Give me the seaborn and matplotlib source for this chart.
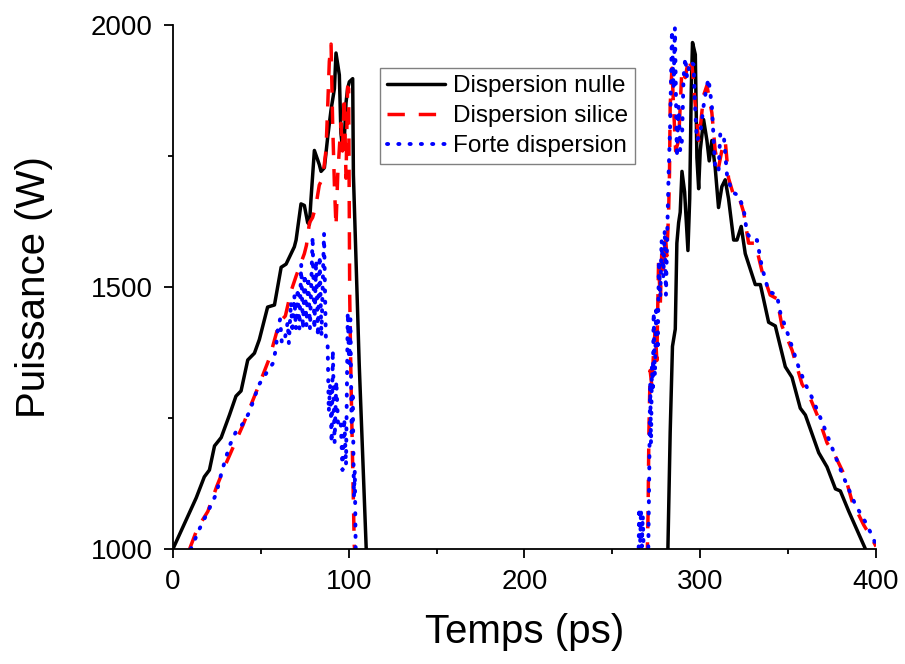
"""
plot.py
-------
Puissance en fonction du temps pour trois régimes de dispersion.
"""

import numpy as np
import pandas as pd
import matplotlib
matplotlib.use("Agg")
import matplotlib.pyplot as plt
import seaborn as sns

# ── Données ─────────────────────────────────────────────────────────────────

# Dispersion nulle — première impulsion
t_nulle_1 = [0, 13.3, 17.9, 20.8, 23.7, 27.5, 32.2, 35.9, 38.8, 42.6, 46.4, 49.2,
             53.9, 57.8, 61.6, 64.4, 69.1, 70.1, 72.9, 74.8, 76.7, 77.7, 78.6,
             80.5, 83.3, 84.3, 86.2, 88.1, 90.0, 91.9, 92.8, 94.7, 95.6, 96.6,
             97.5, 98.5, 99.4, 100.4, 102.3, 102.7, 106.0, 110.0, 112.0]
p_nulle_1 = [1000, 1098, 1138, 1151, 1197, 1213, 1256, 1292, 1302, 1361, 1374, 1400,
             1462, 1466, 1538, 1544, 1577, 1590, 1659, 1656, 1623, 1620, 1669,
             1761, 1734, 1721, 1728, 1787, 1839, 1879, 1947, 1905, 1794, 1761,
             1780, 1852, 1879, 1892, 1898, 1715, 1354, 1000, 980]

# Dispersion nulle — seconde impulsion
t_nulle_2 = [281.4, 281.6, 282.9, 284.2, 285.8, 286.7, 287.7, 288.6, 289.6, 291.1,
             293.0, 294.0, 294.9, 295.6, 297.2, 298.1, 299.1, 300.0, 301.9, 303.8,
             305.1, 306.6, 308.5, 310.4, 312.3, 314.2, 316.1, 319.0, 320.9, 323.3,
             325.6, 331.3, 334.2, 338.9, 342.7, 348.4, 352.2, 356.9, 359.8, 367.4,
             372.1, 376.9, 379.7, 384.5, 394.0, 395.0]
p_nulle_2 = [980, 1000, 1223, 1387, 1420, 1584, 1623, 1643, 1721, 1682,
             1570, 1669, 1879, 1967, 1944, 1747, 1688, 1761, 1820, 1780,
             1741, 1780, 1728, 1652, 1692, 1705, 1669, 1590, 1590, 1616,
             1564, 1505, 1505, 1433, 1426, 1348, 1328, 1269, 1256, 1184,
             1157, 1115, 1111, 1072, 1000, 985]

# Dispersion silice — première impulsion
t_silice_1 = [9.5, 14, 19.9, 25, 30.3, 35, 39.8, 45, 49.2, 55, 60.6, 64, 67.2,
              70.1, 74.8, 76, 77.7, 79.5, 81.4, 83.3, 85.2, 87.1, 88.1, 89.0, 90.0,
              90.9, 91.9, 92.8, 93.8, 95.6, 96.5, 97.5, 98.5, 99.4, 100.0, 100.6,
              101.3, 102.3, 103.2, 104]
p_silice_1 = [1000, 1040, 1072, 1120, 1164, 1200, 1236, 1280, 1315, 1365, 1433,
              1445, 1492, 1521, 1564, 1580, 1623, 1633, 1656, 1695, 1708, 1761,
              1846, 1931, 1964, 1813, 1695, 1616, 1715, 1813, 1760, 1865, 1708,
              1882, 1879, 1485, 1328, 1157, 1007, 980]

# Dispersion silice — seconde impulsion
t_silice_2 = [269.8, 270.3, 270.8, 271.5, 272.5, 273.5, 274.4, 275.3, 276.3, 277.3,
              278.2, 279.2, 280.1, 281.0, 282.0, 282.5, 282.9, 283.9, 284.8, 286.0,
              287.7, 289.6, 291.5, 293.4, 294.3, 295.3, 297.2, 299.1, 300.5, 301.9,
              303.8, 306.6, 308.5, 310.4, 312.3, 314.2, 316.1, 319.0, 321.8, 324.7,
              327.5, 331.3, 335.1, 339.8, 343.6, 346.5, 352.2, 357.9, 361.7, 367.4,
              372.1, 376.9, 382.5, 386.3, 393.0, 397.7, 400.0]
p_silice_2 = [980, 1066, 1223, 1341, 1310, 1380, 1420, 1360, 1551, 1470,
              1577, 1530, 1603, 1560, 1643, 1715, 1846, 1918, 1846, 1760,
              1780, 1918, 1900, 1938, 1925, 1925, 1846, 1780, 1820, 1866,
              1885, 1833, 1761, 1728, 1761, 1780, 1708, 1675, 1675, 1643,
              1584, 1584, 1531, 1485, 1478, 1426, 1380, 1315, 1295, 1249,
              1203, 1177, 1138, 1092, 1046, 1020, 1005]

# Forte dispersion — première impulsion
t_forte_1 = [10.2, 15.2, 20, 24.6, 28, 32.2, 36, 40, 43.6, 47, 49.2, 53, 56.8,
             58.5, 59.7, 61, 62, 63.5, 65.3, 66, 67.2, 68, 69.1, 70, 71, 72, 73,
             74, 75, 76, 77, 78, 79.5, 80.5, 81.5, 82.5, 83.5, 84.5, 86, 87, 88,
             88.7, 89.5, 90.3, 91, 92, 93, 94, 95.5, 96.5, 97.5, 98.5, 99.5, 100.3,
             101, 101.7, 102.3, 103, 103.5, 104, 104.3]
p_forte_1 = [1000, 1039, 1072, 1105, 1150, 1197, 1225, 1240, 1262, 1295, 1315, 1335,
             1354, 1380, 1420, 1439, 1393, 1397, 1433, 1393, 1472, 1413, 1485, 1420,
             1498, 1420, 1544, 1420, 1525, 1426, 1520, 1420, 1597, 1420, 1551, 1406,
             1560, 1406, 1603, 1406, 1400, 1262, 1315, 1203, 1380, 1203, 1321, 1236,
             1243, 1151, 1250, 1160, 1452, 1354, 1440, 1223, 1300, 1100, 1150, 1000,
             980]

# Forte dispersion — seconde impulsion
t_forte_2 = [264.8, 265.3, 265.8, 266.3, 266.8, 267.3, 267.8, 268.3, 270.3, 271.0,
             271.5, 272.0, 272.5, 273.0, 273.5, 274.2, 275.0, 275.8, 276.5, 277.3,
             278.0, 279.0, 279.8, 280.5, 281.2, 282.0, 282.9, 283.9, 284.8, 285.6,
             286.7, 287.7, 288.6, 289.6, 290.5, 291.5, 292.5, 294.3, 296.2, 297.0,
             298.1, 300.0, 301.9, 303.5, 304.7, 306.6, 308.5, 310.4, 311.4, 313.3,
             315.2, 318.0, 321.8, 324.7, 326.6, 329.4, 332.3, 335.1, 338.9, 343.6,
             345.5, 350.3, 355.9, 359.8, 363.6, 369.3, 376.9, 380.7, 388.2, 393.9,
             397.7, 401.0]
p_forte_2 = [960, 1079, 1010, 1075, 1005, 1065, 1000, 960, 960, 1150,
             1320, 1200, 1350, 1300, 1452, 1330, 1465, 1380, 1551, 1480,
             1590, 1520, 1610, 1485, 1600, 1715, 1813, 1990, 1879, 1995,
             1748, 1846, 1760, 1780, 1900, 1938, 1900, 1931, 1925, 1850,
             1780, 1793, 1846, 1880, 1898, 1846, 1728, 1721, 1793, 1793,
             1715, 1682, 1675, 1649, 1603, 1590, 1590, 1538, 1492, 1485,
             1452, 1406, 1348, 1315, 1289, 1243, 1177, 1144, 1085, 1052,
             1026, 1000]

SERIES = [
    ("Dispersion nulle", [(t_nulle_1, p_nulle_1), (t_nulle_2, p_nulle_2)],
     dict(color="black", linestyle="-", linewidth=2.5)),
    ("Dispersion silice", [(t_silice_1, p_silice_1), (t_silice_2, p_silice_2)],
     dict(color="#FF0000", linestyle=(0, (5, 4)), linewidth=2.5)),
    ("Forte dispersion", [(t_forte_1, p_forte_1), (t_forte_2, p_forte_2)],
     dict(color="#0000FF", linestyle=(0, (0.3, 2.6)), linewidth=2.8,
          dash_capstyle="round")),
]

# ── Style ───────────────────────────────────────────────────────────────────

sns.set_style("ticks")
plt.rcParams.update({
    "font.family": ["Liberation Sans", "DejaVu Sans"],
    "text.color": "black",
    "axes.labelcolor": "black",
    "axes.edgecolor": "black",
    "xtick.color": "black",
    "ytick.color": "black",
    "axes.linewidth": 1.3,
    "xtick.major.width": 1.3,
    "ytick.major.width": 1.3,
    "xtick.minor.width": 1.3,
    "ytick.minor.width": 1.3,
    "xtick.major.size": 6.5,
    "ytick.major.size": 6.5,
    "xtick.minor.size": 3.5,
    "ytick.minor.size": 3.5,
    "xtick.direction": "out",
    "ytick.direction": "out",
})

fig = plt.figure(figsize=(9.05, 6.64), dpi=100)
ax = fig.add_axes([0.191, 0.173, 0.777, 0.789])

for label, pulses, style in SERIES:
    for i, (t, p) in enumerate(pulses):
        df = pd.DataFrame({"t": t, "p": p})
        sns.lineplot(data=df, x="t", y="p", sort=False, estimator=None,
                     label=label if i == 0 else None, ax=ax, **style)

ax.set_xlim(0, 400)
ax.set_ylim(1000, 2000)
ax.set_xticks([0, 100, 200, 300, 400])
ax.set_xticks([50, 150, 250, 350], minor=True)
ax.set_yticks([1000, 1500, 2000])
ax.set_yticks([1250, 1750], minor=True)
ax.tick_params(labelsize=20, pad=8)
sns.despine(ax=ax)

ax.set_xlabel("Temps (ps)", fontsize=29, labelpad=13)
ax.set_ylabel("Puissance (W)", fontsize=29, labelpad=27)

leg = ax.legend(loc="upper left", bbox_to_anchor=(0.294, 0.918), borderaxespad=0,
                fontsize=17.5, frameon=True, fancybox=False, framealpha=1,
                edgecolor="#808080", handlelength=2.4, handletextpad=0.3,
                labelspacing=0.32, borderpad=0.3)
leg.get_frame().set_linewidth(1.0)

fig.savefig("out.png", dpi=100)
